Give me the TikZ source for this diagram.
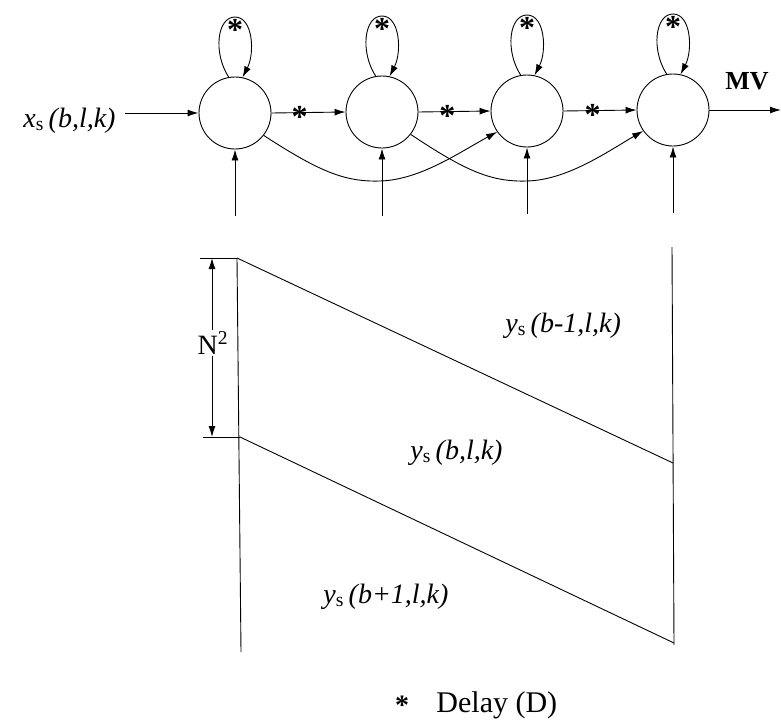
\documentclass[tikz,border=0pt]{standalone}
\usepackage{fontspec}
\setmainfont{Liberation Serif}
\usetikzlibrary{arrows.meta}
\begin{document}
\begin{tikzpicture}[x=1pt,y=-1pt,
  line width=0.9pt,
  arr/.style={-{Latex[length=11pt,width=7pt]}},
  dblarr/.style={{Latex[length=11pt,width=7pt]}-{Latex[length=11pt,width=7pt]}},
  cell/.style={circle,draw,minimum size=72pt,inner sep=0pt},
  star/.style={font=\fontsize{32}{32}\selectfont\bfseries,inner sep=0pt,yshift=-4.5pt},
  lbl/.style={font=\fontsize{28}{32}\selectfont,inner sep=0pt}]
\useasboundingbox (0,0) rectangle (781,720);
% cells
\node[cell] (c1) at (235,113) {};
\node[cell] (c2) at (382,112) {};
\node[cell] (c3) at (527,111) {};
\node[cell] (c4) at (673,110) {};
% self loops
\foreach \c/\x/\y in {c1/235/113,c2/382/112,c3/527/111,c4/673/110}{
  \draw[arr] (\c.100) .. controls (\x-22,\y-60) and (\x-18,\y-96) .. (\x,\y-96)
     .. controls (\x+18,\y-96) and (\x+20,\y-60) .. (\c.78);
  \node[star] at (\x,\y-88) {*};
}
% chain arrows
\draw[arr] (c1.east) -- node[star,pos=0.38]{*} (c2.west);
\draw[arr] (c2.east) -- node[star,pos=0.4]{*} (c3.west);
\draw[arr] (c3.east) -- node[star,pos=0.4]{*} (c4.west);
% skip arrows
\draw[arr] (c1.-38) .. controls (320,172) and (345,182) .. (380,181)
   .. controls (420,180) and (460,152) .. (c3.-145);
\draw[arr] (c2.-38) .. controls (467,172) and (492,182) .. (527,181)
   .. controls (567,180) and (607,152) .. (c4.-145);
% bottom inputs
\coordinate (b1) at (235,216);
\coordinate (b2) at (382,216);
\coordinate (b3) at (527,214);
\coordinate (b4) at (673,213);
\draw[arr] (b1) -- (c1.south);
\draw[arr] (b2) -- (c2.south);
\draw[arr] (b3) -- (c3.south);
\draw[arr] (b4) -- (c4.south);
% input and output
\node[lbl,anchor=base east] (xin) at (116,127) {\textit{x}\textsubscript{s}\,\textit{(b,l,k)}};
\coordinate (xs) at (125,113);
\draw[arr] (xs) -- (c1.west);
\coordinate (out) at (781,110);
\draw[arr] (c4.east) -- (out);
\node[lbl,font=\fontsize{26}{30}\selectfont\bfseries,anchor=base] (mv) at (747,89) {MV};
% lower diagram
\coordinate (A) at (237,258);
\coordinate (Ab) at (241,652);
\coordinate (B) at (672,247);
\coordinate (Bb) at (674,645);
\coordinate (C) at (673,463);
\coordinate (D) at (240,437);
\coordinate (E) at (674,643);
\draw (A) -- (Ab);
\draw (B) -- (Bb);
\draw (A) -- (C);
\draw (D) -- (E);
% N^2 dimension
\coordinate (t1) at (200,258);
\coordinate (t2) at (203,437);
\coordinate (d1) at (212,258);
\coordinate (d2) at (212,437);
\draw (t1) -- (A);
\draw (t2) -- (D);
\draw[dblarr] (d1) -- (d2);
\node[lbl,fill=white,inner sep=2pt] (n2) at (213,343) {N\textsuperscript{2}};
% region labels
\node[lbl,anchor=base west] (l1) at (505,332) {\textit{y}\textsubscript{s}\,\textit{(b-1,l,k)}};
\node[lbl,anchor=base west] (l2) at (410,459) {\textit{y}\textsubscript{s}\,\textit{(b,l,k)}};
\node[lbl,anchor=base west] (l3) at (323,603) {\textit{y}\textsubscript{s}\,\textit{(b+1,l,k)}};
% legend
\node[star,font=\fontsize{28}{28}\selectfont\bfseries,yshift=0.5pt] (ls) at (402,701) {*};
\node[lbl,anchor=base west,font=\fontsize{30}{34}\selectfont] (lt) at (436,712) {Delay (D)};
\end{tikzpicture}
\end{document}
